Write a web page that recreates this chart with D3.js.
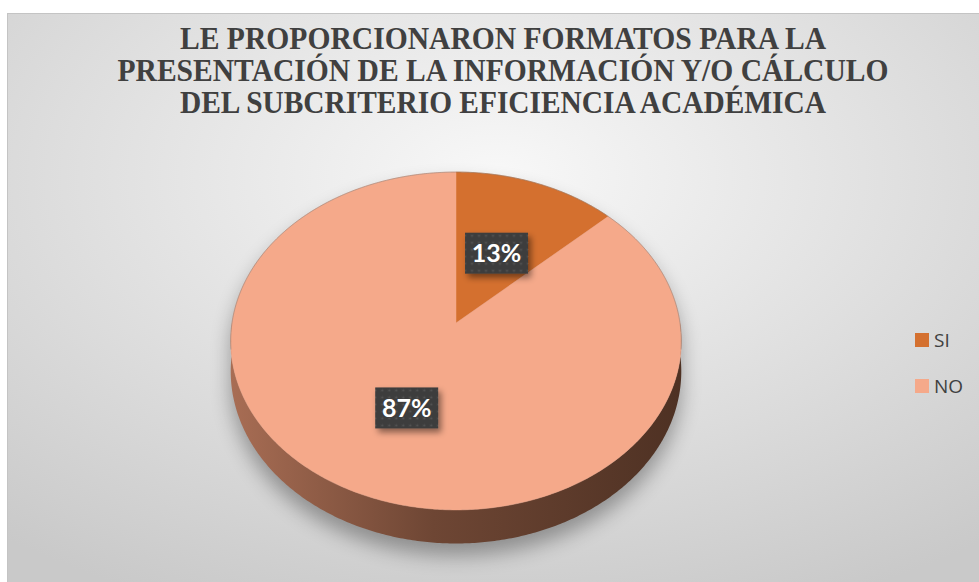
<!DOCTYPE html>
<html>
<head>
<meta charset="utf-8">
<script src="https://cdn.jsdelivr.net/npm/d3@7"></script>
<style>
  html, body { margin: 0; padding: 0; background: #fff; }
  svg { display: block; }
</style>
</head>
<body>
<script>
var width = 979, height = 582;

// data
var categories = ["SI", "NO"];
var values = [13, 87];
var percentLabels = ["13%", "87%"];
var titleLines = [
    "LE PROPORCIONARON FORMATOS PARA LA",
    "PRESENTACIÓN DE LA INFORMACIÓN Y/O CÁLCULO",
    "DEL SUBCRITERIO EFICIENCIA ACADÉMICA"
];

var color = d3.scaleOrdinal().domain(categories).range(["#d4702f", "#f5a98a"]);

var svg = d3.select("body").append("svg")
    .attr("width", width)
    .attr("height", height);

var defs = svg.append("defs");

var bg = defs.append("radialGradient").attr("id", "bg")
    .attr("cx", "50%").attr("cy", "28%").attr("r", "80%");
bg.append("stop").attr("offset", "0%").attr("stop-color", "#f8f8f8");
bg.append("stop").attr("offset", "100%").attr("stop-color", "#c9c9c9");

var side = defs.append("linearGradient").attr("id", "side")
    .attr("x1", "0%").attr("x2", "100%").attr("y1", "0%").attr("y2", "0%");
side.append("stop").attr("offset", "0%").attr("stop-color", "#a86d54");
side.append("stop").attr("offset", "45%").attr("stop-color", "#6e4634");
side.append("stop").attr("offset", "100%").attr("stop-color", "#4e3123");

var shadow = defs.append("filter").attr("id", "blur")
    .attr("x", "-20%").attr("y", "-20%").attr("width", "140%").attr("height", "140%");
shadow.append("feGaussianBlur").attr("stdDeviation", 10);

var lblShadow = defs.append("filter").attr("id", "lblshadow")
    .attr("x", "-30%").attr("y", "-30%").attr("width", "170%").attr("height", "170%");
lblShadow.append("feDropShadow").attr("dx", 3).attr("dy", 4)
    .attr("stdDeviation", 3).attr("flood-color", "#000").attr("flood-opacity", 0.45);

var dots = defs.append("pattern").attr("id", "dots")
    .attr("width", 7).attr("height", 7).attr("patternUnits", "userSpaceOnUse");
dots.append("rect").attr("width", 7).attr("height", 7).attr("fill", "#3e3e3e");
dots.append("circle").attr("cx", 3.5).attr("cy", 3.5).attr("r", 1).attr("fill", "#565656");

// chart area
svg.append("rect")
    .attr("x", 7.5).attr("y", 13.5)
    .attr("width", width).attr("height", height)
    .attr("fill", "url(#bg)")
    .attr("stroke", "#c4c4c4");

// title
svg.append("g").selectAll("text")
    .data(titleLines)
    .enter().append("text")
    .attr("x", 503)
    .attr("y", function (d, i) { return 49 + i * 32; })
    .attr("text-anchor", "middle")
    .attr("textLength", function (d, i) { return i === 1 ? 771 : 646; })
    .attr("lengthAdjust", "spacingAndGlyphs")
    .attr("font-family", "'Liberation Serif', 'Times New Roman', serif")
    .attr("font-weight", "bold")
    .attr("font-size", 32)
    .attr("fill", "#404040")
    .text(function (d) { return d; });

// perspective projection of the pie disc
var cx = 456, cy = 323, R = 224, A = 167, B = 0.1065, depth = 30;

function proj(theta, f, drop) {
    var u = Math.sin(theta), v = -Math.cos(theta);
    var s = 1 / (1 - B * v);
    return [cx + R * f * u * s, cy + A * f * v * s + drop * s];
}

function arcPoints(a0, a1, drop) {
    var n = Math.max(2, Math.ceil((a1 - a0) / 0.01));
    var pts = [];
    for (var i = 0; i <= n; i++) {
        pts.push(proj(a0 + (a1 - a0) * i / n, 1, drop));
    }
    return pts;
}

var line = d3.line();

var pie = d3.pie().sort(null).value(function (d) { return d; });
var arcs = pie(values);

var g = svg.append("g");

// shadow under the disc
var outline = arcPoints(0, 2 * Math.PI, depth);
g.append("path")
    .attr("d", line(arcPoints(0, 2 * Math.PI, 0).concat(outline)) + "Z")
    .attr("transform", "translate(0,12)")
    .attr("fill", "#000")
    .attr("opacity", 0.33)
    .attr("filter", "url(#blur)");

// side walls (front half only)
arcs.forEach(function (d) {
    var a0 = Math.max(d.startAngle, Math.PI / 2);
    var a1 = Math.min(d.endAngle, 3 * Math.PI / 2);
    if (a1 <= a0) return;
    var top = arcPoints(a0, a1, 0);
    var bottom = arcPoints(a0, a1, depth).reverse();
    g.append("path")
        .attr("d", line(top.concat(bottom)) + "Z")
        .attr("fill", "url(#side)");
});

// top faces
g.selectAll(".slice")
    .data(arcs)
    .enter().append("path")
    .attr("class", "slice")
    .attr("d", function (d) {
        var pts = [[cx, cy]].concat(arcPoints(d.startAngle, d.endAngle, 0));
        return line(pts) + "Z";
    })
    .attr("fill", function (d, i) { return color(categories[i]); })
    .attr("stroke", function (d, i) { return color(categories[i]); })
    .attr("stroke-width", 0.5);

g.append("path")
    .attr("d", line(arcPoints(Math.PI * 1.45, Math.PI * 2.55, 0)))
    .attr("fill", "none")
    .attr("stroke", "#8a7a72")
    .attr("stroke-opacity", 0.5)
    .attr("stroke-width", 1);

// data labels
var boxW = 63, boxH = 41;
var labels = g.selectAll(".lbl")
    .data(arcs)
    .enter().append("g")
    .attr("class", "lbl")
    .attr("transform", function (d) {
        var p = proj((d.startAngle + d.endAngle) / 2, 0.5, 0);
        return "translate(" + p[0] + "," + p[1] + ")";
    });

labels.append("rect")
    .attr("x", -boxW / 2).attr("y", -boxH / 2)
    .attr("width", boxW).attr("height", boxH)
    .attr("fill", "url(#dots)")
    .attr("filter", "url(#lblshadow)");

labels.append("text")
    .attr("text-anchor", "middle")
    .attr("dy", "0.36em")
    .attr("font-family", "Lato, 'Open Sans', sans-serif")
    .attr("font-weight", "bold")
    .attr("font-size", 25)
    .attr("fill", "#fff")
    .text(function (d, i) { return percentLabels[i]; });

// legend
var legendY = d3.scalePoint().domain(categories).range([340, 386]);
var legend = svg.append("g").selectAll("g")
    .data(categories)
    .enter().append("g")
    .attr("transform", function (d) { return "translate(915," + legendY(d) + ")"; });

legend.append("rect")
    .attr("x", 0).attr("y", -7)
    .attr("width", 14).attr("height", 14)
    .attr("fill", function (d) { return color(d); });

legend.append("text")
    .attr("x", 19)
    .attr("dy", "0.36em")
    .attr("font-family", "'Open Sans', Lato, sans-serif")
    .attr("font-size", 19)
    .attr("fill", "#404040")
    .text(function (d) { return d; });
</script>
</body>
</html>
